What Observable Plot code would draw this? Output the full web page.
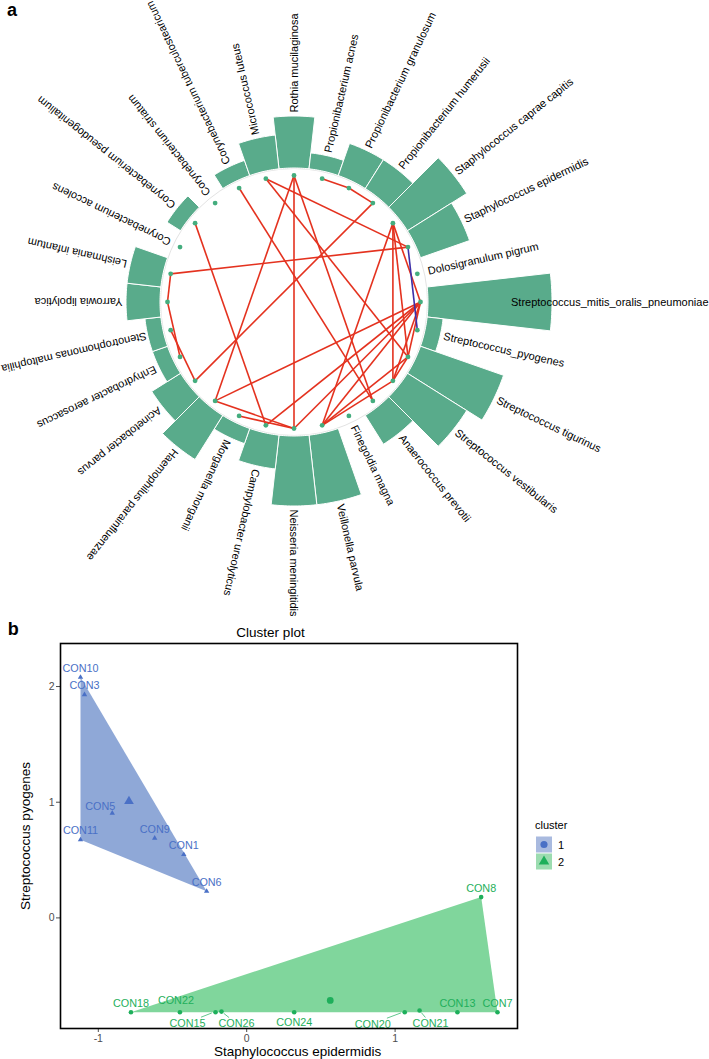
<!DOCTYPE html>
<html><head><meta charset="utf-8">
<script src="https://cdn.jsdelivr.net/npm/d3@7"></script>
<script src="https://cdn.jsdelivr.net/npm/@observablehq/plot@0.6"></script>
<style>
html,body{margin:0;padding:0;background:#fff;}
#wrap{width:709px;height:1059px;overflow:hidden;position:relative;}
#wrap svg{display:block;}
</style></head>
<body><div id="wrap"><div id="pa"></div><div id="pb"></div></div>
<script>
// ================= Panel a data =================
const species = [
  "Rothia mucilaginosa","Propionibacterium acnes","Propionibacterium granulosum","Propionibacterium humerusii",
  "Staphylococcus caprae capitis","Staphylococcus epidermidis","Dolosigranulum pigrum",
  "Streptococcus_mitis_oralis_pneumoniae","Streptococcus_pyogenes","Streptococcus tigurinus",
  "Streptococcus vestibularis","Anaerococcus prevotii","Finegoldia magna","Veillonella parvula",
  "Neisseria meningitidis","Campylobacter ureolyticus","Morganella morganii","Haemophilus parainfluenzae",
  "Acinetobacter parvus","Enhydrobacter aerosaccus","Stenotrophomonas maltophilia","Yarrowia lipolytica",
  "Leishmania infantum","Corynebacterium accolens","Corynebacterium pseudogenitalium",
  "Corynebacterium striatum","Corynebacterium tuberculostearicum","Micrococcus luteus"
];
const degree = [3,1,2,2,4,3,0,7,1,5,4,2,0,4,4,2,1,3,2,1,1,2,2,0,1,0,1,2];
const edgeFrom = [
  "Propionibacterium acnes","Propionibacterium granulosum","Propionibacterium humerusii",
  "Rothia mucilaginosa","Rothia mucilaginosa","Rothia mucilaginosa",
  "Staphylococcus epidermidis","Corynebacterium tuberculostearicum","Corynebacterium pseudogenitalium",
  "Leishmania infantum","Leishmania infantum","Yarrowia lipolytica","Stenotrophomonas maltophilia",
  "Haemophilus parainfluenzae","Haemophilus parainfluenzae","Morganella morganii",
  "Micrococcus luteus","Micrococcus luteus",
  "Veillonella parvula","Veillonella parvula","Veillonella parvula","Veillonella parvula",
  "Streptococcus_mitis_oralis_pneumoniae","Streptococcus_mitis_oralis_pneumoniae","Streptococcus_mitis_oralis_pneumoniae",
  "Streptococcus_mitis_oralis_pneumoniae","Streptococcus_mitis_oralis_pneumoniae",
  "Staphylococcus caprae capitis","Streptococcus tigurinus","Staphylococcus caprae capitis"
];
const edgeTo = [
  "Propionibacterium granulosum","Propionibacterium humerusii","Acinetobacter parvus",
  "Neisseria meningitidis","Haemophilus parainfluenzae","Anaerococcus prevotii",
  "Streptococcus_pyogenes","Anaerococcus prevotii","Campylobacter ureolyticus",
  "Yarrowia lipolytica","Staphylococcus epidermidis","Enhydrobacter aerosaccus","Acinetobacter parvus",
  "Streptococcus_mitis_oralis_pneumoniae","Neisseria meningitidis","Neisseria meningitidis",
  "Staphylococcus epidermidis","Streptococcus tigurinus",
  "Staphylococcus caprae capitis","Streptococcus_mitis_oralis_pneumoniae","Streptococcus tigurinus","Streptococcus vestibularis",
  "Staphylococcus caprae capitis","Streptococcus tigurinus","Streptococcus vestibularis",
  "Neisseria meningitidis","Campylobacter ureolyticus",
  "Streptococcus tigurinus","Streptococcus vestibularis","Streptococcus vestibularis"
];
const edgeSign = [1,1,1,1,1,1,-1,1,1,1,1,1,1,1,1,1,1,1,1,1,1,1,1,1,1,1,1,1,1,1];

// ================= Panel b data =================
const sampleIds = ["CON10","CON3","CON5","CON11","CON9","CON1","CON6",
                   "CON8","CON7","CON13","CON21","CON20","CON24","CON26","CON15","CON22","CON18"];
const staphEpidermidis = [-1.12,-1.093,-0.906,-1.12,-0.62,-0.424,-0.27,
                          1.58,1.69,1.42,1.165,1.065,0.32,-0.17,-0.21,-0.45,-0.78];
const strepPyogenes = [2.08,1.93,0.905,0.675,0.69,0.548,0.23,
                       0.18,-0.815,-0.815,-0.80,-0.815,-0.815,-0.81,-0.815,-0.815,-0.815];
const clusterId = [1,1,1,1,1,1,1,2,2,2,2,2,2,2,2,2,2];
const xTicks = [-1,0,1];
const yTicks = [0,1,2];
const xLimits = [-1.2547, 1.8248];
const yLimits = [-0.956, 2.372];

// ================= styling / layout =================
const FONT = "'Liberation Sans', Arial, Helvetica, sans-serif";
const W = 709, HA = 616, HB = 1059 - HA;
const CX = 293.5, CY = 301.5;
const R_NODE = 126.5, R_INNER = 134;
const BAR = "#59ab8b", NODE = "#44ad7e", POS = "#e4321f", NEG = "#3d2fa8";

const N = species.length, STEP = 2 * Math.PI / N;
const rScale = d3.scaleLinear().domain([0, 1]).range([132, 150]);
const idx = new Map(species.map((s, i) => [s, i]));
const theta = i => i * STEP;
const polar = (r, a) => ({x: r * Math.sin(a), y: -r * Math.cos(a)});

// bars
const barPts = [];
species.forEach((s, i) => {
  const v = degree[i]; if (!v) return;
  const rOut = rScale(v);
  const a0 = theta(i) - STEP / 2, a1 = theta(i) + STEP / 2, K = 14;
  for (let k = 0; k <= K; k++) barPts.push({id: s, ...polar(R_INNER, a0 + (a1 - a0) * k / K)});
  for (let k = K; k >= 0; k--) barPts.push({id: s, ...polar(rOut, a0 + (a1 - a0) * k / K)});
  barPts.push({id: s, ...polar(R_INNER, a0)});
});
// nodes
const nodes = species.map((s, i) => ({s, ...polar(R_NODE, theta(i))}));
// edges
const edges = edgeFrom.map((f, k) => {
  const a = polar(R_NODE, theta(idx.get(f))), b = polar(R_NODE, theta(idx.get(edgeTo[k])));
  return {x1: a.x, y1: a.y, x2: b.x, y2: b.y, sign: edgeSign[k]};
});
// labels (kept inside the canvas horizontally)
const ctx = document.createElement("canvas").getContext("2d");
ctx.font = "11px 'Liberation Sans'";
const labels = species.map((s, i) => {
  const a = theta(i);
  let r = (degree[i] ? rScale(degree[i]) : R_INNER) + 3.5;
  const w = ctx.measureText(s).width;
  const sx = Math.sin(a);
  if (sx > 0.3 && CX + (r + w) * sx > W - 1) r = (W - 1 - CX) / sx - w;
  if (sx < -0.3 && CX + (r + w) * sx < 1) r = (CX - 1) / (-sx) - w;
  return {s, ...polar(r, a), rot: a * 180 / Math.PI - 90};
});

const plotA = Plot.plot({
  width: W, height: HA, margin: 0,
  x: {domain: [-CX, W - CX], range: [0, W], axis: null},
  y: {domain: [-CY, HA - CY], range: [0, HA], axis: null},
  style: {fontFamily: FONT, fontSize: "11px", background: "white", color: "black"},
  marks: [
    Plot.dot([0], {x: () => 0, y: () => 0, r: R_INNER - 0.5, stroke: "#e3e3e3", strokeWidth: 1, fill: "none"}),
    Plot.line(barPts, {x: "x", y: "y", z: "id", fill: BAR, stroke: "white", strokeWidth: 1, curve: "linear"}),
    Plot.link(edges.filter(e => e.sign > 0), {x1: "x1", y1: "y1", x2: "x2", y2: "y2", stroke: POS, strokeWidth: 1.6}),
    Plot.link(edges.filter(e => e.sign < 0), {x1: "x1", y1: "y1", x2: "x2", y2: "y2", stroke: NEG, strokeWidth: 1.6}),
    Plot.dot(nodes, {x: "x", y: "y", r: 2.4, fill: NODE, stroke: "none"}),
    Plot.text(labels, {x: "x", y: "y", text: "s", rotate: "rot", textAnchor: "start", fontSize: 11, fill: "black"})
  ]
});
document.getElementById("pa").appendChild(plotA);
d3.select(plotA).append("text").attr("x", 12).attr("y", 9.5).attr("text-anchor", "middle")
  .attr("dominant-baseline", "central").attr("font-weight", "bold").attr("font-size", 18)
  .attr("font-family", FONT).attr("fill", "black").text("a");

// ================= Panel b =================
const COL = {
  1: {pt: "#4a70c6", hull: "#8fa8d7", key: "#a9badf", sym: "triangle"},
  2: {pt: "#1eaf5b", hull: "#80d69c", key: "#9cdcb0", sym: "circle"}
};
const pts = sampleIds.map((id, i) => ({id, x: staphEpidermidis[i], y: strepPyogenes[i], c: clusterId[i]}));
const clusters = [1, 2];
const centroids = clusters.map(c => {
  const g = pts.filter(p => p.c === c);
  return {c, x: d3.mean(g, p => p.x), y: d3.mean(g, p => p.y)};
});
// label nudges in pixels (repel layout)
const nudge = {CON5: [-12, -7], CON22: [-4, -12], CON15: [-28, 11], CON26: [15, 12],
               CON24: [0, 10], CON20: [-32, 12], CON21: [11, 13]};
const leaderIds = ["CON15", "CON26", "CON20", "CON21"];
const defaultNudge = [0, -9];
const LFS = 10.8;

const labelMarks = [];
clusters.forEach(c => {
  labelMarks.push(Plot.text(pts.filter(p => p.c === c && !nudge[p.id]),
    {x: "x", y: "y", text: "id", dx: defaultNudge[0], dy: defaultNudge[1], fill: COL[c].pt, fontSize: LFS}));
});
pts.filter(p => nudge[p.id]).forEach(p => {
  labelMarks.push(Plot.text([p], {x: "x", y: "y", text: "id", dx: nudge[p.id][0], dy: nudge[p.id][1],
    fill: COL[p.c].pt, fontSize: LFS}));
});

const B0 = HA; // page y of panel b svg top
const plotB = Plot.plot({
  width: W, height: HB, marginLeft: 60, marginRight: 192, marginTop: 643 - B0, marginBottom: 1059 - 1028,
  x: {domain: xLimits, ticks: xTicks, tickSize: 4, tickPadding: 2, label: null, tickFormat: d => String(d)},
  y: {domain: yLimits, ticks: yTicks, tickSize: 4, tickPadding: 2, label: null, tickFormat: d => String(d)},
  style: {fontFamily: FONT, fontSize: "10.5px", background: "white", color: "#4d4d4d"},
  marks: [
    ...clusters.map(c => Plot.hull(pts.filter(p => p.c === c), {x: "x", y: "y", fill: COL[c].hull, stroke: "none"})),
    ...clusters.map(c => Plot.dot(pts.filter(p => p.c === c),
      {x: "x", y: "y", symbol: COL[c].sym, r: c === 1 ? 2.0 : 2.3, fill: COL[c].pt, stroke: "none"})),
    ...clusters.map(c => Plot.dot(centroids.filter(d => d.c === c),
      {x: "x", y: "y", symbol: COL[c].sym, r: c === 1 ? 3.6 : 3.4, fill: COL[c].pt, stroke: "none"})),
    ...labelMarks,
    Plot.frame({stroke: "black", strokeWidth: 1.6})
  ]
});
document.getElementById("pb").appendChild(plotB);

const svgB = d3.select(plotB);
const sx = plotB.scale("x"), sy = plotB.scale("y");
// leader segments
const ctxB = document.createElement("canvas").getContext("2d");
ctxB.font = LFS + "px 'Liberation Sans'";
leaderIds.forEach(id => {
  const p = pts.find(q => q.id === id);
  const P = [sx.apply(p.x), sy.apply(p.y)];
  const L = [P[0] + nudge[id][0], P[1] + nudge[id][1]];
  const dx = P[0] - L[0], dy = P[1] - L[1], len = Math.hypot(dx, dy);
  const hw = ctxB.measureText(id).width / 2 + 1, hh = 5.5;
  const t = Math.min(hw / Math.abs(dx || 1e-9), hh / Math.abs(dy || 1e-9));
  const E = [L[0] + dx * t, L[1] + dy * t];
  const S = [P[0] - dx / len * 3.5, P[1] - dy / len * 3.5];
  svgB.append("line").attr("x1", E[0]).attr("y1", E[1]).attr("x2", S[0]).attr("y2", S[1])
    .attr("stroke", COL[p.c].pt).attr("stroke-width", 0.7);
});
// titles
const addText = (x, pageY, txt, opts = {}) => {
  const y = pageY - B0;
  const t = svgB.append("text").attr("x", x).attr("y", y).attr("text-anchor", opts.anchor || "middle")
    .attr("dominant-baseline", "central").attr("font-family", FONT).attr("font-size", opts.size || 13.5)
    .attr("fill", opts.fill || "black").text(txt);
  if (opts.bold) t.attr("font-weight", "bold");
  if (opts.rotate) t.attr("transform", `rotate(${opts.rotate},${x},${y})`);
  return t;
};
addText(13.3, 628.5, "b", {size: 18, bold: true});
addText(270.5, 632, "Cluster plot");
addText(297.7, 1051.7, "Staphylococcus epidermidis");
addText(25, 836, "Streptococcus pyogenes", {rotate: -90});
// legend
addText(535, 825, "cluster", {anchor: "start", size: 11});
clusters.forEach((c, k) => {
  const py0 = 836.5 + k * 17;
  svgB.append("rect").attr("x", 536).attr("y", py0 - B0).attr("width", 16).attr("height", 16).attr("fill", COL[c].key);
  const sym = c === 1 ? d3.symbolCircle : d3.symbolTriangle;
  svgB.append("path").attr("d", d3.symbol(sym, c === 1 ? 40 : 48)())
    .attr("transform", `translate(544,${py0 + 8 - B0})`).attr("fill", COL[c].pt);
  addText(558, py0 + 8, String(c), {anchor: "start", size: 11});
});
</script>
</body></html>
